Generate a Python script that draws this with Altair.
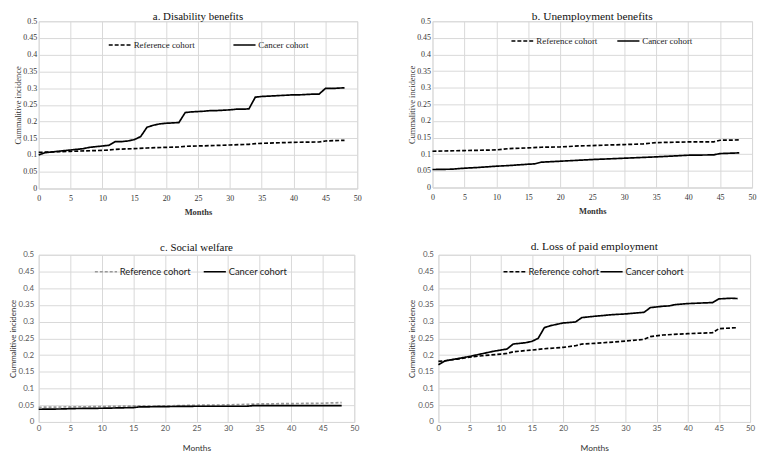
import altair as alt
import pandas as pd

# ---------------- data ----------------
a_cancer_months = list(range(0, 49))
a_cancer = [0.100, 0.107, 0.109, 0.111, 0.113, 0.115, 0.117, 0.119, 0.123, 0.125, 0.127, 0.129,
            0.140, 0.140, 0.142, 0.146, 0.155,
            0.183, 0.189, 0.193, 0.195, 0.196, 0.197,
            0.227, 0.229, 0.230, 0.231, 0.233, 0.233, 0.234, 0.235, 0.237, 0.237, 0.238,
            0.273, 0.275, 0.276, 0.277, 0.278, 0.279, 0.280, 0.280, 0.281, 0.282, 0.282,
            0.299, 0.299, 0.300, 0.301]
a_ref_months = [0, 5, 10, 11, 12, 15, 17, 20, 22, 23, 25, 27, 30, 33, 34, 35, 40, 44, 45, 48]
a_ref = [0.108, 0.111, 0.114, 0.115, 0.117, 0.119, 0.121, 0.123, 0.124, 0.126, 0.127, 0.128,
         0.130, 0.132, 0.134, 0.135, 0.138, 0.139, 0.142, 0.144]

b_ref_months = [0, 5, 10, 12, 15, 17, 20, 23, 25, 28, 30, 33, 35, 40, 44, 45, 48]
b_ref = [0.109, 0.111, 0.113, 0.117, 0.119, 0.121, 0.122, 0.125, 0.126, 0.128, 0.129, 0.131,
         0.135, 0.137, 0.137, 0.142, 0.143]
b_cancer_months = [0, 3, 5, 7, 10, 12, 15, 16, 17, 20, 25, 30, 35, 40, 44, 45, 48]
b_cancer = [0.054, 0.055, 0.058, 0.060, 0.064, 0.066, 0.070, 0.071, 0.076, 0.079, 0.084, 0.088,
            0.092, 0.097, 0.098, 0.102, 0.104]

c_ref_months = [0, 5, 10, 15, 20, 25, 30, 35, 40, 45, 48]
c_ref = [0.044, 0.045, 0.046, 0.048, 0.048, 0.050, 0.051, 0.054, 0.055, 0.056, 0.058]
c_cancer_months = [0, 4, 5, 10, 15, 16, 20, 25, 30, 33, 34, 40, 48]
c_cancer = [0.038, 0.039, 0.040, 0.041, 0.043, 0.045, 0.046, 0.047, 0.047, 0.047, 0.049, 0.049, 0.049]

d_cancer_months = [0, 1, 2, 3, 5, 7, 9, 10, 11, 12, 14, 15, 16, 17, 18, 20, 22, 23, 25, 28, 30,
                   33, 34, 36, 37, 38, 40, 44, 45, 47, 48]
d_cancer = [0.171, 0.182, 0.186, 0.189, 0.196, 0.204, 0.212, 0.215, 0.218, 0.233, 0.237, 0.241,
            0.250, 0.282, 0.288, 0.296, 0.299, 0.312, 0.316, 0.321, 0.323, 0.328, 0.342, 0.346,
            0.347, 0.351, 0.354, 0.357, 0.368, 0.370, 0.369]
d_ref_months = [0, 1, 3, 5, 7, 10, 11, 12, 15, 17, 20, 22, 23, 25, 28, 30, 33, 34, 36, 40, 44, 45, 48]
d_ref = [0.181, 0.183, 0.188, 0.194, 0.198, 0.203, 0.205, 0.210, 0.215, 0.219, 0.223, 0.228,
         0.233, 0.235, 0.239, 0.242, 0.247, 0.255, 0.260, 0.264, 0.267, 0.279, 0.282]

series_names = ["Reference cohort", "Cancer cohort"]
x_ticks = list(range(0, 51, 5))
y_ticks = [i * 0.05 for i in range(0, 11)]


def frame(ref_m, ref_v, can_m, can_v):
    rows = [{"Months": m, "v": v, "cohort": series_names[0]} for m, v in zip(ref_m, ref_v)]
    rows += [{"Months": m, "v": v, "cohort": series_names[1]} for m, v in zip(can_m, can_v)]
    return pd.DataFrame(rows)


SERIF = "Liberation Serif"
SANS = "Lato"


def panel(df, title, tsize, toff, ytitle, font, label_color, ref_color, ref_dash,
          legx, legy, colpad, w, h):
    serif = font == SERIF
    legend = alt.Legend(
        title=None, orient="none", legendX=legx, legendY=legy, direction="horizontal",
        symbolType="stroke", symbolSize=500, symbolStrokeWidth=1.6, labelFont=font,
        labelFontSize=9 if serif else 9.5, labelColor="#222",
        columnPadding=colpad, labelOffset=2, padding=0,
    )
    return alt.Chart(df).mark_line(strokeWidth=1.7).encode(
        x=alt.X("Months:Q", scale=alt.Scale(domain=[0, 50], nice=False),
                axis=alt.Axis(values=x_ticks, title="Months", titleFont=font,
                              titleFontSize=8.5,
                              titleFontWeight="bold" if serif else "normal",
                              titleColor="#333", labelFont=font,
                              labelFontSize=8,
                              labelColor=label_color, ticks=False,
                              labelPadding=6 if serif else 3,
                              titlePadding=5 if serif else 11,
                              domainColor="#d9d9d9", gridColor="#d9d9d9",
                              labelFlush=False)),
        y=alt.Y("v:Q", scale=alt.Scale(domain=[0, 0.5], nice=False),
                axis=alt.Axis(values=y_ticks, title=ytitle, titleFont=font,
                              titleFontSize=8.5 if serif else 8, titleFontWeight="normal",
                              titleColor="#333", labelFont=font,
                              labelFontSize=8,
                              labelColor=label_color, ticks=False,
                              labelPadding=2 if serif else 5,
                              titlePadding=0 if serif else 1,
                              domain=False, gridColor="#d9d9d9",
                              format="~g", labelFlush=False)),
        color=alt.Color("cohort:N", scale=alt.Scale(domain=series_names, range=[ref_color, "#000000"]),
                        legend=legend),
        strokeDash=alt.StrokeDash("cohort:N", scale=alt.Scale(domain=series_names,
                                                               range=[ref_dash, [1, 0]]),
                                  legend=legend),
    ).properties(
        width=w, height=h,
        title=alt.TitleParams(title, font=SERIF, fontSize=tsize, fontWeight=400,
                              color="#111", offset=toff),
    )


pa = panel(frame(a_ref_months, a_ref, a_cancer_months, a_cancer), "a. Disability  benefits", 11, -5,
           "Cummalitive  incidence", SERIF, "#333", "#000000", [4, 2], 70, 12, 35, 322, 169)
pb = panel(frame(b_ref_months, b_ref, b_cancer_months, b_cancer), "b. Unemployment  benefits", 11.5, -5,
           "Cummalitive  incidence", SERIF, "#333", "#000000", [4, 2], 79, 8, 16, 323, 168)
pc = panel(frame(c_ref_months, c_ref, c_cancer_months, c_cancer), "c. Social welfare", 11, -2,
           "Cummalitive incidence", SANS, "#595959", "#999999", [3, 2], 56, 5, 9, 319, 169)
pd_ = panel(frame(d_ref_months, d_ref, d_cancer_months, d_cancer), "d. Loss of paid employment", 11.5, -2,
            "Cummalitive incidence", SANS, "#595959", "#000000", [4, 2], 65, 5, -4, 315, 169)

indep = dict(color="independent", strokeDash="independent")
top = alt.hconcat(pa, pb, spacing=45).resolve_legend(**indep).resolve_scale(**indep)
bottom = alt.hconcat(pc, pd_, spacing=48).resolve_legend(**indep).resolve_scale(**indep)
chart = (alt.vconcat(top, bottom, spacing=25)
         .resolve_legend(**indep).resolve_scale(**indep)
         .properties(padding=0)
         .configure_view(stroke=None)
         .configure(background="white"))

chart.save("out.html", embed_options={"renderer": "svg", "actions": False})
